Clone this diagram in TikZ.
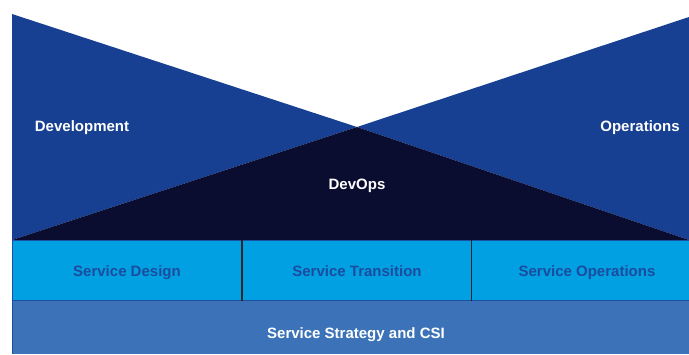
\documentclass[tikz,border=0pt]{standalone}
\usepackage{fontspec}
\setmainfont{Liberation Sans}
\definecolor{triblue}{HTML}{173F92}
\definecolor{darknavy}{HTML}{0A0D30}
\definecolor{svccyan}{HTML}{00A0E3}
\definecolor{svctext}{HTML}{1C4C9E}
\definecolor{basebar}{HTML}{3C73B8}
\definecolor{edgeblue}{HTML}{1D4FA0}
\tikzset{
  lbl/.style={font=\bfseries\fontsize{15}{18}\selectfont,inner sep=0pt,text height=10.8pt,text depth=0pt},
  wlabel/.style={lbl,text=white},
  slabel/.style={lbl,text=svctext},
}
\begin{document}
\begin{tikzpicture}[x=1pt,y=-1pt]
\useasboundingbox (0,0) rectangle (689,354);
\fill[white] (0,0) rectangle (689,354);
% blue triangles
\fill[triblue] (12,14) -- (357,127) -- (12,240) -- cycle;
\fill[triblue] (689,17) -- (357,127) -- (689,240) -- cycle;
% dark devops triangle
\fill[darknavy] (12,240) -- (357,127) -- (689,240) -- cycle;
% service boxes
\fill[svccyan] (12,240) rectangle (689,301);
\draw[edgeblue,line width=1pt] (12,240.5) -- (689,240.5);
\draw[edgeblue,line width=1pt] (12,300.5) -- (689,300.5);
\draw[edgeblue,line width=0.6pt] (12.3,240) -- (12.3,301);
\draw[black!85,line width=1.4pt] (242,240) -- (242,301);
\draw[black!85,line width=1.4pt] (471.5,240) -- (471.5,301);
% base bar
\fill[basebar] (12,301) rectangle (689,354);
\draw[edgeblue,line width=0.6pt] (12.3,301) -- (12.3,354);
% labels
\node[wlabel] (dev) at (82,126) {Development};
\node[wlabel] (ops) at (640,126) {Operations};
\node[wlabel] (devops) at (357,184) {DevOps};
\node[slabel] (sd) at (127,271.5) {Service Design};
\node[slabel] (st) at (357,271.5) {Service Transition};
\node[slabel] (so) at (587,271.5) {Service Operations};
\node[wlabel] (ssc) at (356,333) {Service Strategy and CSI};
\end{tikzpicture}
\end{document}
